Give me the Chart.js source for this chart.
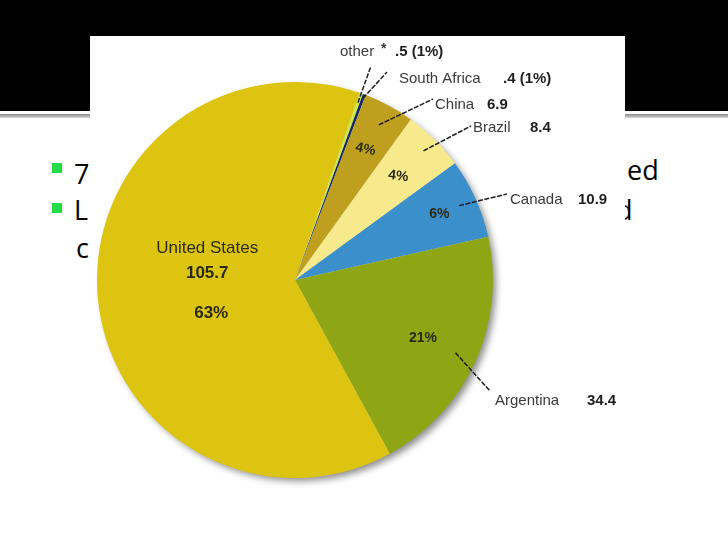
<!DOCTYPE html>
<html>
<head>
  <title>Pie</title>
  <script src="https://cdn.jsdelivr.net/npm/chart.js"></script>
  <style>
    html, body { margin: 0; padding: 0; width: 728px; height: 546px; overflow: hidden; background: #fff; }
    #topbar { position: absolute; left: 0; top: 0; width: 728px; height: 111px; background: #000; }
    #rule { position: absolute; left: 0; top: 114px; width: 728px; height: 4px; background: linear-gradient(#8a8a8a, #d8d8d8); }
    .txt { position: absolute; font-family: "Open Sans", sans-serif; font-size: 27px; color: #000; line-height: 1; }
    .sq { position: absolute; width: 10px; height: 10px; background: #22dd44; }
    #photo { position: absolute; left: 90px; top: 36px; width: 535px; height: 450px; background: #fff; }
    #pie { position: absolute; left: 0; top: 0; }
  </style>
</head>
<body>
  <div id="topbar"></div>
  <div id="rule"></div>
  <div class="sq" style="left:52px;top:163px"></div>
  <div class="sq" style="left:52px;top:203px"></div>
  <div class="txt" style="left:74px;top:160px">7</div>
  <div class="txt" style="left:74px;top:196px">L</div>
  <div class="txt" style="left:76px;top:234px">c</div>
  <div class="txt" style="left:627px;top:156px">ed</div>
  <div class="txt" style="left:616px;top:196px">d</div>
  <div id="photo"></div>
  <canvas id="pie" width="728" height="546"></canvas>

  <script>
    // data
    const countries = ['other', 'South Africa', 'China', 'Brazil', 'Canada', 'Argentina', 'United States'];
    const values = [0.5, 0.4, 6.9, 8.4, 10.9, 34.4, 105.7];
    const valueLabels = ['.5 (1%)', '.4 (1%)', '6.9', '8.4', '10.9', '34.4', '105.7'];
    const pctLabels = ['', '', '4%', '4%', '6%', '21%', '63%'];
    const colors = ['#cfe84a', '#17276e', '#bfa01e', '#f6ea8c', '#3b8fca', '#8ea514', '#dcc410'];

    // where the outside labels sit (text baseline start), and leader line ends
    const namePos = [[340, 56], [399, 83], [435, 109], [473, 132], [510, 204], [495, 405]];
    const valueX = [395, 503, 487, 530, 578, 587];
    const leaderEnd = [[371, 66], [387, 72], [433, 99], [471, 126], [507, 194], [490, 391]];
    const leaderFrac = [0.95, 0.98, 0.89, 0.92, 0.91, 0.89];
    const innerFrac = [0, 0, 0.75, 0.74, 0.8, 0.71, 0.445];
    const innerTilt = [0, 0, 0.2, 0.12, 0, 0, 0];

    const labelFont = '15px "Liberation Sans", Arial, sans-serif';
    const boldFont = 'bold 15px "Liberation Sans", Arial, sans-serif';

    const pieShadow = {
      id: 'pieShadow',
      beforeDatasetsDraw(chart) {
        const arc = chart.getDatasetMeta(0).data[0];
        if (!arc) return;
        const ctx = chart.ctx;
        ctx.save();
        ctx.shadowColor = 'rgba(0,0,0,0.45)';
        ctx.shadowBlur = 7;
        ctx.shadowOffsetX = 4;
        ctx.shadowOffsetY = 4;
        ctx.fillStyle = '#ccc';
        ctx.beginPath();
        ctx.arc(arc.x, arc.y, arc.outerRadius - 1, 0, Math.PI * 2);
        ctx.fill();
        ctx.restore();
      }
    };

    const pieLabels = {
      id: 'pieLabels',
      afterDatasetsDraw(chart) {
        const ctx = chart.ctx;
        const arcs = chart.getDatasetMeta(0).data;
        ctx.save();
        arcs.forEach((arc, i) => {
          const mid = (arc.startAngle + arc.endAngle) / 2;
          const r = arc.outerRadius;
          // outside labels with leader lines
          if (i < namePos.length) {
            const sx = arc.x + Math.cos(mid) * r * leaderFrac[i];
            const sy = arc.y + Math.sin(mid) * r * leaderFrac[i];
            ctx.strokeStyle = '#1e1e1e';
            ctx.lineWidth = 1.5;
            ctx.setLineDash([5, 1.5]);
            ctx.beginPath();
            ctx.moveTo(sx, sy);
            ctx.lineTo(leaderEnd[i][0], leaderEnd[i][1]);
            ctx.stroke();
            ctx.setLineDash([]);

            ctx.textAlign = 'left';
            ctx.textBaseline = 'alphabetic';
            ctx.fillStyle = '#3a3a3a';
            ctx.font = labelFont;
            ctx.fillText(countries[i], namePos[i][0], namePos[i][1]);
            if (i === 0) {
              ctx.font = 'bold 14px "Liberation Sans", Arial, sans-serif';
              ctx.fillText('*', 381, namePos[i][1] - 3);
            }
            ctx.fillStyle = '#1e1e1e';
            ctx.font = boldFont;
            ctx.fillText(valueLabels[i], valueX[i], namePos[i][1]);
          }
          // percentages inside the slices
          if (pctLabels[i]) {
            const px = arc.x + Math.cos(mid) * r * innerFrac[i];
            const py = arc.y + Math.sin(mid) * r * innerFrac[i];
            ctx.textAlign = 'center';
            ctx.fillStyle = '#2b2a12';
            if (i === countries.length - 1) {
              ctx.font = '17px "Liberation Sans", Arial, sans-serif';
              ctx.textBaseline = 'alphabetic';
              ctx.fillText(countries[i], px, py - 34);
              ctx.font = 'bold 17px "Liberation Sans", Arial, sans-serif';
              ctx.fillText(valueLabels[i], px, py - 9);
              ctx.fillText(pctLabels[i], px + 4, py + 31);
            } else {
              ctx.save();
              ctx.translate(px, py);
              ctx.rotate(innerTilt[i]);
              ctx.font = 'bold 14px "Liberation Sans", Arial, sans-serif';
              ctx.textBaseline = 'middle';
              ctx.fillText(pctLabels[i], 0, 0);
              ctx.restore();
            }
          }
        });
        ctx.restore();
      }
    };

    const ctx = document.getElementById('pie').getContext('2d');
    const chart = new Chart(ctx, {
      type: 'pie',
      data: {
        labels: countries,
        datasets: [{
          data: values,
          backgroundColor: colors,
          borderWidth: 0
        }]
      },
      options: {
        responsive: false,
        animation: false,
        rotation: 19,
        layout: { padding: { left: 97, top: 82, right: 235, bottom: 68 } },
        plugins: {
          legend: { display: false },
          tooltip: { enabled: false }
        }
      },
      plugins: [pieShadow, pieLabels]
    });
  </script>
</body>
</html>
